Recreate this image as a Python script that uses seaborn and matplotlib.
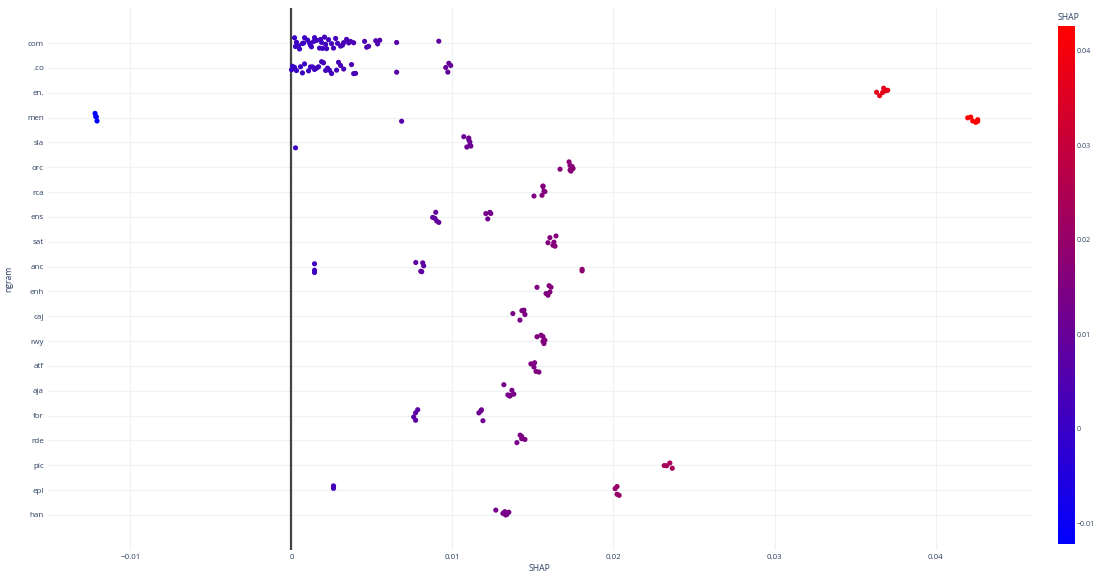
import numpy as np
import pandas as pd
import matplotlib
matplotlib.use("Agg")
import matplotlib.pyplot as plt
from matplotlib.colors import LinearSegmentedColormap, Normalize
from matplotlib.cm import ScalarMappable
import seaborn as sns

# n-gram features, top to bottom
ngrams = ["com", ".co", "en.", "men", "sla", "orc", "rca", "ens", "sat", "anc",
          "enh", "caj", "rwy", "atf", "aja", "for", "rde", "pic", "epl", "han"]

# SHAP values per n-gram
shap_com = [0.00019, 0.00025, 0.00031, 0.00044, 0.0005, 0.00068, 0.00075, 0.00081,
            0.0010, 0.00112, 0.00118, 0.00124, 0.00137, 0.00143, 0.00156, 0.00174,
            0.0018, 0.00187, 0.00193, 0.00205, 0.00212, 0.00218, 0.0023, 0.00249,
            0.00261, 0.00274, 0.00286, 0.00305, 0.00317, 0.00324, 0.00342, 0.00355,
            0.00367, 0.00386, 0.00454, 0.00467, 0.00479, 0.00523, 0.00535, 0.00548,
            0.00653, 0.00915]
shap_co = [0.0, 0.00006, 0.00019, 0.00031, 0.00056, 0.00068, 0.00081, 0.00106,
           0.00118, 0.00131, 0.00143, 0.00156, 0.00168, 0.00187, 0.00199, 0.00212,
           0.00224, 0.00236, 0.00249, 0.0028, 0.00292, 0.00305, 0.00324, 0.00373,
           0.00386, 0.00398, 0.00653, 0.00958, 0.00971, 0.00977, 0.00989]
shap_en = [0.03634, 0.03653, 0.03671, 0.03678, 0.0369, 0.03696, 0.03703]
shap_men = [-0.0122, -0.01216, -0.01212, -0.01208, 0.00684,
            0.0420, 0.04219, 0.04231, 0.0425, 0.04262, 0.04262]
shap_sla = [0.00025, 0.0107, 0.01089, 0.01101, 0.01108, 0.01114, 0.01108, 0.01101]
shap_orc = [0.01668, 0.01724, 0.0173, 0.01736, 0.01742, 0.01749, 0.0173]
shap_rca = [0.01506, 0.01556, 0.01562, 0.01568, 0.01574, 0.01562]
shap_ens = [0.00877, 0.00890, 0.00902, 0.00915, 0.00896,
            0.01207, 0.01219, 0.01232, 0.01238]
shap_sat = [0.01593, 0.01605, 0.01624, 0.01637, 0.01643, 0.0163]
shap_anc = [0.00143, 0.00143, 0.00143, 0.00772, 0.00803, 0.00809, 0.00815, 0.00821,
            0.01805, 0.01805]
shap_enh = [0.01525, 0.01581, 0.01593, 0.01605, 0.01612, 0.016]
shap_caj = [0.01375, 0.01419, 0.01431, 0.01444, 0.0145, 0.01437]
shap_rwy = [0.01525, 0.0155, 0.01562, 0.01568, 0.01574, 0.01562]
shap_atf = [0.01487, 0.01506, 0.01519, 0.01537, 0.0151]
shap_aja = [0.01319, 0.01344, 0.01356, 0.01369, 0.01381, 0.0136]
shap_for = [0.00759, 0.00771, 0.00784, 0.00771, 0.01164, 0.01176, 0.01189, 0.0118]
shap_rde = [0.0140, 0.0142, 0.0143, 0.0145, 0.0143]
shap_pic = [0.02315, 0.0233, 0.0235, 0.02365]
shap_epl = [0.00261, 0.00261, 0.00261, 0.0201, 0.02022, 0.02035, 0.02022]
shap_han = [0.01269, 0.01313, 0.01325, 0.01338, 0.0135, 0.0133]

series = [shap_com, shap_co, shap_en, shap_men, shap_sla, shap_orc, shap_rca,
          shap_ens, shap_sat, shap_anc, shap_enh, shap_caj, shap_rwy, shap_atf,
          shap_aja, shap_for, shap_rde, shap_pic, shap_epl, shap_han]

df = pd.DataFrame({
    "ngram": np.repeat(ngrams, [len(s) for s in series]),
    "SHAP": np.concatenate(series),
})

text_color = "#2a3f5f"
grid_color = "#eef1f5"
bluered = LinearSegmentedColormap.from_list("bluered", ["#0000ff", "#ff0000"])
norm = Normalize(vmin=df["SHAP"].min(), vmax=df["SHAP"].max())

sns.set_theme(style="white")
plt.rcParams["font.family"] = ["Open Sans", "DejaVu Sans"]

fig = plt.figure(figsize=(10.97, 5.76), dpi=100)
ax = fig.add_axes([0.0438, 0.0451, 0.8969, 0.9410])

np.random.seed(7)
sns.stripplot(data=df, x="SHAP", y="ngram", order=ngrams, hue="SHAP",
              palette=bluered, hue_norm=(norm.vmin, norm.vmax), jitter=0.25,
              size=3.7, linewidth=0, legend=False, ax=ax, zorder=3)

ax.set_xlim(-0.01512, 0.04599)
ax.set_ylim(20.41, -1.41)
ax.set_xticks([-0.01, 0, 0.01, 0.02, 0.03, 0.04])
ax.set_xticklabels(["\u22120.01", "0", "0.01", "0.02", "0.03", "0.04"])
ax.axvline(0, color="#444444", lw=1.6, zorder=2)
ax.grid(True, color=grid_color, lw=0.9, zorder=0)
for sp in ax.spines.values():
    sp.set_visible(False)
ax.tick_params(axis="both", length=0, labelsize=5.8, labelcolor=text_color)
ax.tick_params(axis="y", pad=3)
ax.tick_params(axis="x", pad=3)
ax.set_xlabel("SHAP", fontsize=6.2, color=text_color, labelpad=2)
ax.set_ylabel("ngram", fontsize=6.2, color=text_color, labelpad=10)

# Continuous colour scale for the SHAP values
cax = fig.add_axes([0.9644, 0.0556, 0.0155, 0.899])
cb = fig.colorbar(ScalarMappable(norm=norm, cmap=bluered), cax=cax)
cb.outline.set_visible(False)
cb.set_ticks([-0.01, 0, 0.01, 0.02, 0.03, 0.04])
cb.set_ticklabels(["\u22120.01", "0", "0.01", "0.02", "0.03", "0.04"])
cax.tick_params(length=0, labelsize=5, labelcolor=text_color, pad=1.5)
fig.text(0.9644, 0.962, "SHAP", fontsize=6.2, color=text_color, ha="left", va="bottom")

fig.savefig("out.png", dpi=100, facecolor="white")
